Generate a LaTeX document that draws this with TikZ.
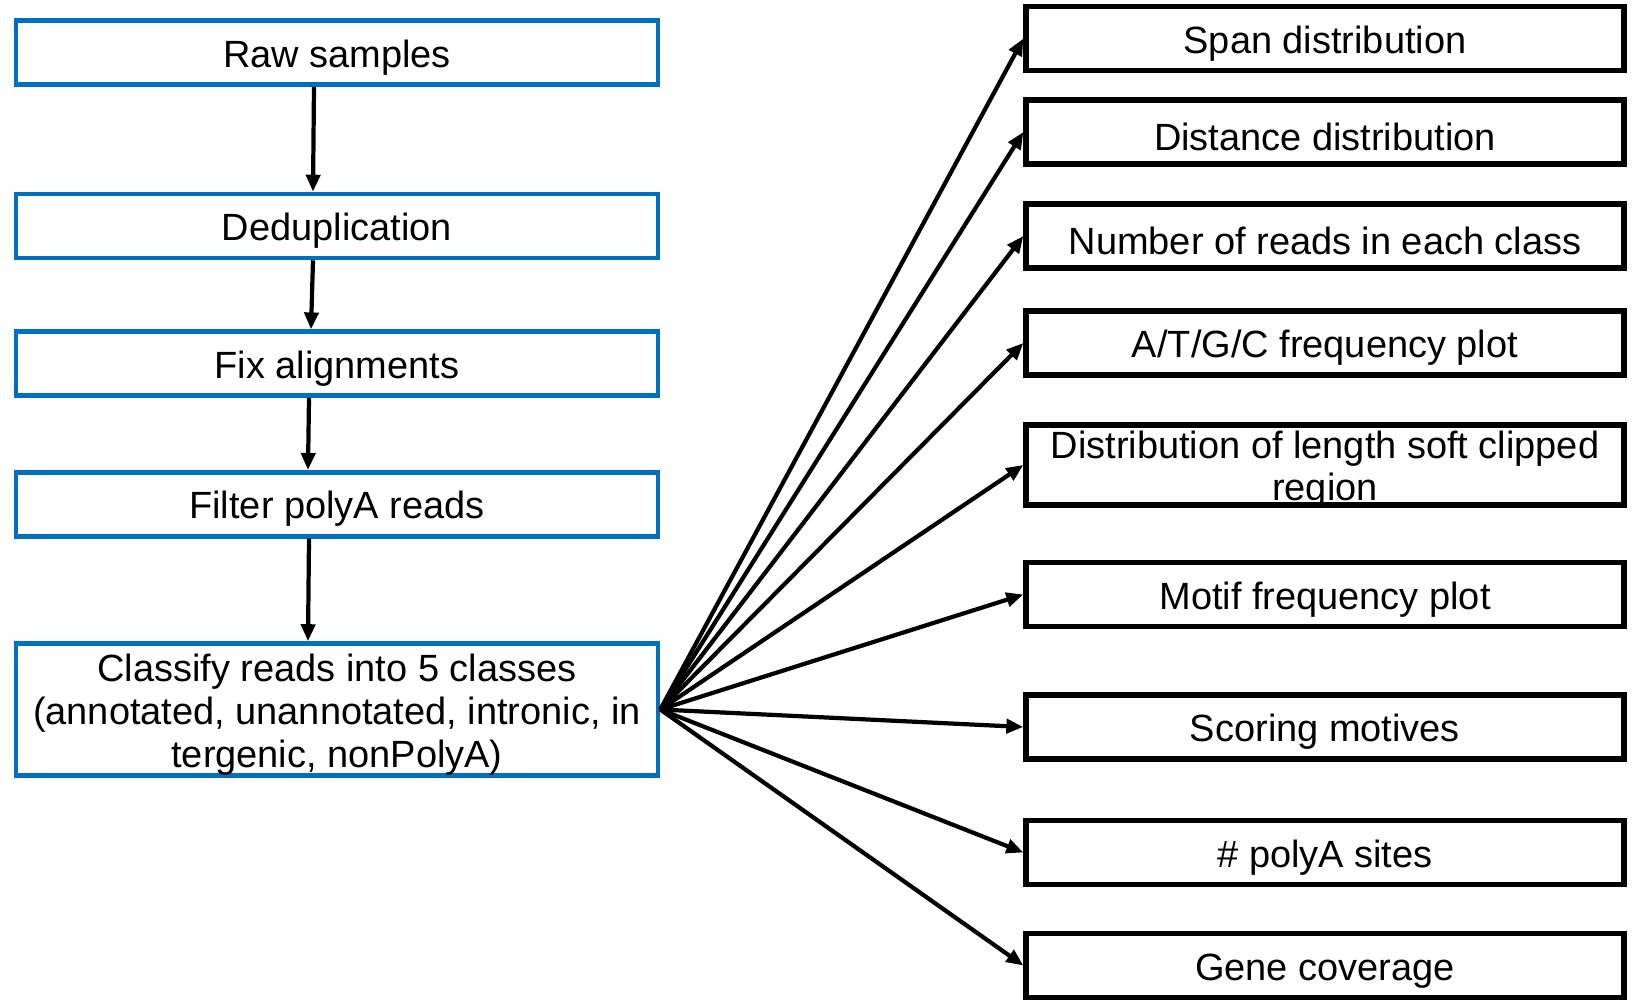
\documentclass[tikz,border=0pt]{standalone}
\usepackage{fontspec}
\setmainfont{Liberation Sans}
\usetikzlibrary{arrows.meta}

\definecolor{stepblue}{HTML}{0070C0}

\tikzset{
    textraise/.style={execute at begin node={\rule{0pt}{#1}}},
    boxfont/.style={font=\fontsize{10.8}{12.2}\selectfont, textraise=0.37cm},
    flow/.style={draw=stepblue, line width=1.3pt, boxfont, align=center,
        minimum width=6.42cm, minimum height=0.64cm, inner sep=0pt},
    result/.style={draw=black, line width=1.5pt, boxfont, align=center,
        minimum width=5.98cm, minimum height=0.64cm, inner sep=0pt},
}

\begin{document}
\begin{tikzpicture}[>={Triangle[length=1.7mm,width=1.4mm]}]
    \useasboundingbox (0,0) rectangle (16.36,-10.08);

    % pipeline
    \node[flow] (raw)    at (3.37,-0.527) {Raw samples};
    \node[flow] (dedup)  at (3.37,-2.26)  {Deduplication};
    \node[flow] (fix)    at (3.37,-3.637) {Fix alignments};
    \node[flow] (filter) at (3.37,-5.043) {Filter polyA reads};
    \node[flow, minimum height=1.32cm, textraise=1.23cm] (cls) at (3.37,-7.095)
        {Classify reads into 5 classes\\(annotated, unannotated, intronic, in\\tergenic, nonPolyA)};

    \draw[->, line width=1.2pt] ([xshift=-2.3mm]raw.south)    -- ([xshift=-2.4mm]dedup.north);
    \draw[->, line width=1.2pt] ([xshift=-2.4mm]dedup.south)  -- ([xshift=-2.6mm]fix.north);
    \draw[->, line width=1.2pt] ([xshift=-2.8mm]fix.south)    -- ([xshift=-2.9mm]filter.north);
    \draw[->, line width=1.2pt] ([xshift=-2.8mm]filter.south) -- ([xshift=-2.9mm]cls.north);

    % outputs
    \node[result] (span)   at (13.25,-0.385) {Span distribution};
    \node[result] (dist)   at (13.25,-1.32)  {Distance distribution};
    \node[result] (nreads) at (13.25,-2.36)  {Number of reads in each class};
    \node[result] (atgc)   at (13.25,-3.43)  {A/T/G/C frequency plot};
    \node[result, minimum height=0.80cm, textraise=0.72cm, text depth=0pt] (clip) at (13.25,-4.65)
        {Distribution of length soft clipped\\region};
    \node[result] (motif)  at (13.25,-5.945) {Motif frequency plot};
    \node[result] (score)  at (13.25,-7.27)  {Scoring motives};
    \node[result] (sites)  at (13.25,-8.525) {\# polyA sites};
    \node[result] (cover)  at (13.25,-9.655) {Gene coverage};

    \foreach \out in {span,dist,nreads,atgc,clip,motif,score,sites,cover} {
        \draw[->, line width=1.2pt] (cls.east) -- (\out.west);
    }
\end{tikzpicture}
\end{document}
